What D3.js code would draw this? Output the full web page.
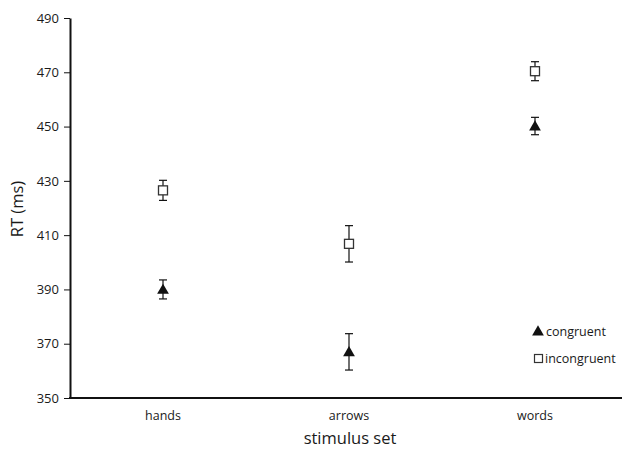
<!DOCTYPE html>
<html><head><meta charset="utf-8">
<script src="https://cdn.jsdelivr.net/npm/d3@7"></script>
<style>body{margin:0;background:#fff}svg{display:block}text{font-family:"Open Sans","Noto Sans",sans-serif;fill:#1a1a1a}</style>
</head><body><svg id="c" width="623" height="450"></svg>
<script>
const categories = ["hands","arrows","words"];
const congruent = [390, 367, 450.2];
const congruentErr = [3.5, 6.7, 3.2];
const incongruent = [426.5, 406.8, 470.4];
const incongruentErr = [3.7, 6.7, 3.5];
const yTicks = [350,370,390,410,430,450,470,490];

const svg = d3.select("#c");
const x = d3.scaleBand().domain(categories).range([70, 628]).padding(0);
const y = d3.scaleLinear().domain([350, 490]).range([398, 18]);

const yAxis = d3.axisLeft(y).tickValues(yTicks).tickSize(6).tickSizeOuter(0).tickPadding(5);
const gy = svg.append("g").attr("transform","translate(70,0)").call(yAxis);
gy.select(".domain").attr("stroke","#111").attr("stroke-width",2);
gy.selectAll(".tick line").attr("stroke","#111").attr("stroke-width",1);
gy.selectAll(".tick text").style("font-size","13px").attr("fill","#1a1a1a");

svg.append("line").attr("x1",69).attr("x2",622).attr("y1",y(350)).attr("y2",y(350))
  .attr("stroke","#111").attr("stroke-width",2);

svg.selectAll(".xl").data(categories).enter().append("text")
  .attr("x", d => x(d) + x.bandwidth()/2).attr("y", 420)
  .attr("text-anchor","middle").style("font-size","12.5px").text(d => d);

svg.append("text").attr("x", 350).attr("y", 444).attr("text-anchor","middle")
  .style("font-size","16.5px").text("stimulus set");
svg.append("text").attr("transform","translate(23,209) rotate(-90)").attr("text-anchor","middle")
  .style("font-size","16.5px").text("RT (ms)");

function errBars(vals, errs) {
  const g = svg.append("g").attr("stroke","#111").attr("stroke-width",1.2);
  categories.forEach((c,i) => {
    const cx = x(c) + x.bandwidth()/2;
    g.append("line").attr("x1",cx).attr("x2",cx).attr("y1",y(vals[i]+errs[i])).attr("y2",y(vals[i]-errs[i]));
    [vals[i]+errs[i], vals[i]-errs[i]].forEach(v =>
      g.append("line").attr("x1",cx-4).attr("x2",cx+4).attr("y1",y(v)).attr("y2",y(v)));
  });
}
errBars(congruent, congruentErr);
errBars(incongruent, incongruentErr);

const tri = d3.symbol().type(d3.symbolTriangle).size(60);
categories.forEach((c,i) => {
  const cx = x(c) + x.bandwidth()/2;
  svg.append("path").attr("d", tri()).attr("transform",`translate(${cx},${y(congruent[i])+1})`).attr("fill","#111");
  svg.append("rect").attr("x",cx-4.5).attr("y",y(incongruent[i])-4.5).attr("width",9).attr("height",9)
    .attr("fill","#fff").attr("stroke","#333").attr("stroke-width",1.3);
});

// legend
svg.append("path").attr("d", tri()).attr("transform","translate(538,332)").attr("fill","#111");
svg.append("text").attr("x",546).attr("y",336).style("font-size","12.5px").text("congruent");
svg.append("rect").attr("x",534.5).attr("y",354.5).attr("width",8).attr("height",8)
  .attr("fill","#fff").attr("stroke","#333").attr("stroke-width",1.2);
svg.append("text").attr("x",545).attr("y",363).style("font-size","12.5px").text("incongruent");
</script></body></html>
